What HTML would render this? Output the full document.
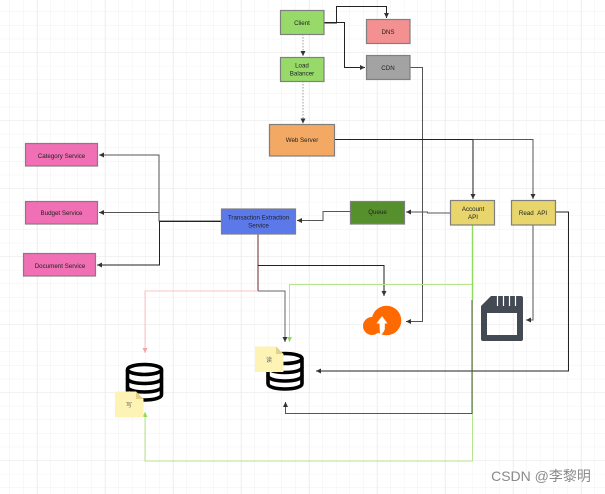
<!DOCTYPE html>
<html><head><meta charset="utf-8"><style>
html,body{margin:0;padding:0;background:#fff;width:605px;height:494px;overflow:hidden}
svg{display:block;filter:blur(0.35px)}
text{font-family:"Liberation Sans","Noto Sans CJK SC",sans-serif;font-size:6.2px;fill:#222;text-anchor:middle}
.n{stroke:#7f7f7f;stroke-width:1.2}
.l{fill:none;stroke:#555;stroke-width:1}
.d{fill:none;stroke:#222;stroke-width:1}
.g{fill:none;stroke:#b4e48c;stroke-width:1}
</style></head><body>
<svg width="605" height="494" viewBox="0 0 605 494" xmlns="http://www.w3.org/2000/svg">
<defs>
<pattern id="m" width="13.6" height="13.6" patternUnits="userSpaceOnUse" x="-3.6" y="-1.6"><path d="M13.6 0V13.6M0 13.6H13.6" fill="none" stroke="#f1f1f1" stroke-width="1"/></pattern>
<pattern id="M" width="68" height="68" patternUnits="userSpaceOnUse" x="-30" y="-15"><path d="M68 0V68M0 68H68" fill="none" stroke="#e9e9e9" stroke-width="1"/></pattern>
<marker id="a" markerWidth="6" markerHeight="6" refX="5" refY="2.5" orient="auto" markerUnits="userSpaceOnUse"><path d="M0 0L5 2.5L0 5z" fill="#333"/></marker>
<marker id="p" markerWidth="6" markerHeight="6" refX="5" refY="2.5" orient="auto" markerUnits="userSpaceOnUse"><path d="M0 0L5 2.5L0 5z" fill="#f5a3a3"/></marker>
<marker id="gr" markerWidth="6" markerHeight="6" refX="5" refY="2.5" orient="auto" markerUnits="userSpaceOnUse"><path d="M0 0L5 2.5L0 5z" fill="#8fdc5c"/></marker>
</defs>
<rect width="605" height="494" fill="#fff"/>
<rect width="605" height="494" fill="url(#m)"/>
<rect width="605" height="494" fill="url(#M)"/>

<!-- connectors -->
<path fill="none" stroke="#999" d="M303 34V56" stroke-dasharray="1.5 1.5" marker-end="url(#a)"/>
<path fill="none" stroke="#999" d="M303 81V123.500" stroke-dasharray="1.5 1.5" marker-end="url(#a)"/>
<path class="d" d="M324 23H336.500V6.500H386.500V18" marker-end="url(#a)"/>
<path class="d" d="M324 22.500H344.500V67.500H365" marker-end="url(#a)"/>
<path class="l" d="M409 67.500H422.500V321.500H406" marker-end="url(#a)"/>
<path class="d" d="M334 139.500H473V199" marker-end="url(#a)"/>
<path class="l" d="M473 139.500H533V199" marker-end="url(#a)"/>
<path class="l" d="M450 213H427.500V212H406" marker-end="url(#a)"/>
<path class="l" d="M350 211.500H323V220.500H297" marker-end="url(#a)"/>
<path class="l" d="M221 221H159V155H99" marker-end="url(#a)"/>
<path class="l" d="M159 212.500H99" marker-end="url(#a)"/>
<path class="d" d="M221 221.500H159.500V265H97" marker-end="url(#a)"/>
<path d="M258 234V291" fill="none" stroke="#6b2a2a" stroke-width="1"/>
<path class="d" d="M258 265.500H384V296" marker-end="url(#a)"/>
<path fill="none" stroke="#666" d="M258 291H285V342" marker-end="url(#a)"/>
<path fill="none" stroke="#f8c4c4" d="M258 291H145V353" marker-end="url(#p)"/>
<path class="g" d="M472.500 284.500H289.500V342" marker-end="url(#gr)"/>
<path class="g" d="M472.500 225V461H145V412" marker-end="url(#gr)"/>
<path d="M472.500 225V300" stroke="#8fdc5c" stroke-width="1.400" fill="none"/>
<path class="l" d="M533 225V320H526" marker-end="url(#a)"/>
<path class="d" d="M555 212H568.500V371H316" marker-end="url(#a)"/>
<path class="l" d="M472 300V413.500H285.500V402" marker-end="url(#a)"/>

<!-- nodes -->
<rect class="n" x="280.500" y="10.500" width="43.500" height="24" fill="#98da6a"/>
<text x="302" y="25">Client</text>
<rect class="n" x="280.500" y="57.500" width="43.500" height="24" fill="#98da6a"/>
<text x="302" y="67.500">Load</text><text x="302" y="75.500">Balancer</text>
<rect class="n" x="366.500" y="19.500" width="43.500" height="24" fill="#f39191"/>
<text x="388" y="34">DNS</text>
<rect class="n" x="366.500" y="55.500" width="43.500" height="24" fill="#a3a3a3"/>
<text x="388" y="70">CDN</text>
<rect class="n" x="269.500" y="124.500" width="65" height="31.500" fill="#f3a964"/>
<text x="302" y="142">Web Server</text>
<rect class="n" x="25.500" y="143.500" width="72" height="22.500" fill="#f16fb4"/>
<text x="61.500" y="158">Category Service</text>
<rect class="n" x="25.500" y="201.500" width="72" height="22.500" fill="#f16fb4"/>
<text x="61.500" y="215">Budget Service</text>
<rect class="n" x="23.500" y="253.500" width="72" height="22.500" fill="#f16fb4"/>
<text x="60" y="268">Document Service</text>
<rect class="n" x="221.500" y="209" width="74" height="25" fill="#5b79e8"/>
<text x="258.500" y="219.500">Transaction Extraction</text><text x="258.500" y="227.500">Service</text>
<rect class="n" x="350.500" y="201.500" width="54" height="22.500" fill="#55902c"/>
<text x="377.500" y="214">Queue</text>
<rect class="n" x="450.500" y="200.500" width="44" height="24.500" fill="#e8d56b"/>
<text x="473" y="211">Account</text><text x="473" y="219">API</text>
<rect class="n" x="511.500" y="200.500" width="44" height="24.500" fill="#e8d56b"/>
<text x="533" y="215">Read&#160;&#160;API</text>

<!-- cloud -->
<circle cx="386.500" cy="320.500" r="14.800" fill="#ff6a00"/>
<circle cx="372" cy="326" r="9" fill="#ff6a00"/>
<path d="M382 316L387.500 323.500H384.800V329C384 332 382 334 380 335.500L379.500 323.500H376.500z" fill="#fff"/>

<!-- sd card -->
<path fill-rule="evenodd" fill="#434a54" d="M491 296H521Q523 296 523 298V339Q523 341 521 341H483Q481 341 481 339V306zM487 313V335H517V313z"/>
<path d="M497.500 296V306M503.500 296V306M509.500 296V306M515.500 296V306" stroke="#fff" stroke-width="1.200"/>

<!-- databases -->
<g fill="none" stroke="#000" stroke-width="3.600">
<g>
<ellipse cx="144.500" cy="369.500" rx="17" ry="5"/>
<path d="M127.500 369.500V394.500C127.500 398 135 400 144.500 400S161.500 398 161.500 394.500V369.500"/>
<path d="M127.500 378C127.500 381.500 135 383.500 144.500 383.500S161.500 381.500 161.500 378"/>
<path d="M127.500 386.500C127.500 390 135 392 144.500 392S161.500 390 161.500 386.500"/>
</g>
<g>
<ellipse cx="285" cy="358.500" rx="17" ry="5"/>
<path d="M268 358.500V383.500C268 387 275.500 389 285 389S302 387 302 383.500V358.500"/>
<path d="M268 367C268 370.500 275.500 372.500 285 372.500S302 370.500 302 367"/>
<path d="M268 375.500C268 379 275.500 381 285 381S302 379 302 375.500"/>
</g>
</g>

<!-- sticky notes -->
<path d="M115 391.500H136L143.500 399V417.500H115z" fill="#fdf3b4"/>
<path d="M136 391.500L143.500 399H136z" fill="#e6cf8a"/>
<text x="129" y="407" style="font-size:6px;fill:#666">写</text>
<path d="M255 346.500H276L283.500 354V372H255z" fill="#fdf3b4"/>
<path d="M276 346.500L283.500 354H276z" fill="#e6cf8a"/>
<text x="269" y="362" style="font-size:6px;fill:#666">读</text>

<text x="541" y="481" style="font-size:14px;fill:#8a8a8a">CSDN @李黎明</text>
</svg>
</body></html>
